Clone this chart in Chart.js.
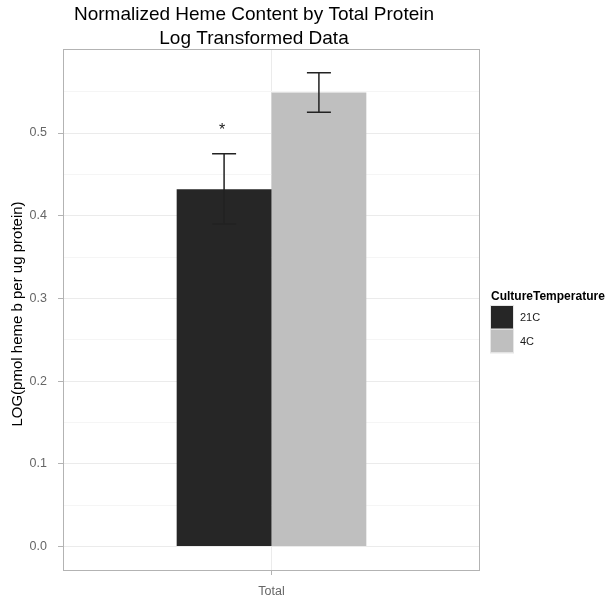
<!DOCTYPE html>
<html>
<head>
  <meta charset="UTF-8">
  <title>Normalized Heme Content by Total Protein</title>
  <script src="https://cdn.jsdelivr.net/npm/chart.js"></script>
  <style>
    body {
      margin: 0;
      padding: 0;
      background-color: #ffffff;
    }
    canvas {
      display: block;
    }
  </style>
</head>
<body>
<canvas id="hemeChart" width="614" height="602"></canvas>

<script>
  // data
  const categories = ['Total'];
  const groups = ['21C', '4C'];
  const groupColors = ['#262626', '#bfbfbf'];
  const means = [0.432, 0.549];
  const errLow = [0.390, 0.525];
  const errHigh = [0.475, 0.573];
  const yMajorTicks = [0, 0.1, 0.2, 0.3, 0.4, 0.5];
  const yTickLabels = ['0.0', '0.1', '0.2', '0.3', '0.4', '0.5'];
  const yMinorTicks = [0.05, 0.15, 0.25, 0.35, 0.45, 0.55];
  const starGroup = 0;
  const starValue = 0.506;

  const FONT = "'Liberation Sans', Arial, Helvetica, sans-serif";

  function isMajor(v) {
    return yMajorTicks.some(t => Math.abs(t - v) < 1e-6);
  }

  // error bars + significance star
  const errorBarPlugin = {
    id: 'errorBars',
    afterDatasetsDraw(chart) {
      const ctx = chart.ctx;
      const y = chart.scales.y;
      ctx.save();
      ctx.strokeStyle = '#222222';
      ctx.lineWidth = 1.5;
      groups.forEach((g, i) => {
        const bar = chart.getDatasetMeta(i).data[0];
        const cx = bar.x;
        const half = 12;
        const yTop = y.getPixelForValue(errHigh[i]);
        const yBot = y.getPixelForValue(errLow[i]);
        ctx.beginPath();
        ctx.moveTo(cx, yTop);
        ctx.lineTo(cx, yBot);
        ctx.moveTo(cx - half, yTop);
        ctx.lineTo(cx + half, yTop);
        ctx.moveTo(cx - half, yBot);
        ctx.lineTo(cx + half, yBot);
        ctx.stroke();
      });
      const sb = chart.getDatasetMeta(starGroup).data[0];
      ctx.fillStyle = '#1a1a1a';
      ctx.font = '16px ' + FONT;
      ctx.textAlign = 'center';
      ctx.textBaseline = 'middle';
      ctx.fillText('*', sb.x - 2, y.getPixelForValue(starValue) + 3);
      ctx.restore();
    }
  };

  // panel border, titles and legend in ggplot style
  const decorPlugin = {
    id: 'decor',
    afterDraw(chart) {
      const ctx = chart.ctx;
      const a = chart.chartArea;
      ctx.save();
      ctx.strokeStyle = '#b3b3b3';
      ctx.lineWidth = 1;
      ctx.strokeRect(a.left - 0.5, a.top - 0.5, a.right - a.left + 1, a.bottom - a.top + 1);

      // main title
      ctx.fillStyle = '#000000';
      ctx.font = '19px ' + FONT;
      ctx.textAlign = 'center';
      ctx.textBaseline = 'alphabetic';
      ctx.fillText('Normalized Heme Content by Total Protein', 254, 20);
      ctx.fillText('Log Transformed Data', 254, 44);

      // y axis title
      ctx.save();
      ctx.translate(18, 314);
      ctx.rotate(-Math.PI / 2);
      ctx.font = '15px ' + FONT;
      ctx.textBaseline = 'middle';
      ctx.fillText('LOG(pmol heme b per ug protein)', 0, 0);
      ctx.restore();

      // legend
      ctx.textAlign = 'left';
      ctx.textBaseline = 'middle';
      ctx.font = 'bold 12px ' + FONT;
      ctx.fillText('CultureTemperature', 491, 297);
      ctx.font = '11px ' + FONT;
      groups.forEach((g, i) => {
        const top = 306 + i * 23.5;
        ctx.fillStyle = groupColors[i];
        ctx.fillRect(491, top, 22, 23);
        ctx.strokeStyle = '#e6e6e6';
        ctx.strokeRect(490.5, top - 0.5, 23, 24);
        ctx.fillStyle = '#1a1a1a';
        ctx.fillText(g, 520, top + 12);
      });
      ctx.restore();
    }
  };

  const ctx = document.getElementById('hemeChart').getContext('2d');
  new Chart(ctx, {
    type: 'bar',
    data: {
      labels: categories,
      datasets: groups.map((g, i) => ({
        label: g,
        data: [means[i]],
        backgroundColor: groupColors[i],
        borderWidth: 0,
        categoryPercentage: 0.457,
        barPercentage: 1.0
      }))
    },
    options: {
      responsive: false,
      animation: false,
      devicePixelRatio: 1,
      layout: {
        padding: { left: 0, top: 50, right: 135, bottom: 0 }
      },
      plugins: {
        legend: { display: false },
        title: { display: false },
        tooltip: { enabled: false }
      },
      scales: {
        x: {
          border: { display: false },
          grid: {
            offset: false,
            color: '#ebebeb',
            tickColor: '#b3b3b3',
            tickLength: 5
          },
          ticks: {
            color: '#666666',
            padding: 9,
            font: { family: FONT, size: 12.5 }
          },
          afterFit(scale) {
            scale.height = 32;
          }
        },
        y: {
          min: -0.0284,
          max: 0.6004,
          border: { display: false },
          afterBuildTicks(scale) {
            scale.ticks = yMajorTicks.concat(yMinorTicks)
              .sort((p, q) => p - q)
              .map(v => ({ value: v }));
          },
          afterFit(scale) {
            scale.width = 64;
          },
          grid: {
            color: c => isMajor(c.tick.value) ? '#ebebeb' : '#f5f5f5',
            tickColor: c => isMajor(c.tick.value) ? '#b3b3b3' : 'rgba(0,0,0,0)',
            tickLength: 6
          },
          ticks: {
            color: '#666666',
            padding: 11,
            font: { family: FONT, size: 12.5 },
            callback: function (value) {
              const idx = yMajorTicks.findIndex(t => Math.abs(t - value) < 1e-6);
              return idx >= 0 ? yTickLabels[idx] : '';
            }
          }
        }
      }
    },
    plugins: [errorBarPlugin, decorPlugin]
  });
</script>
</body>
</html>
